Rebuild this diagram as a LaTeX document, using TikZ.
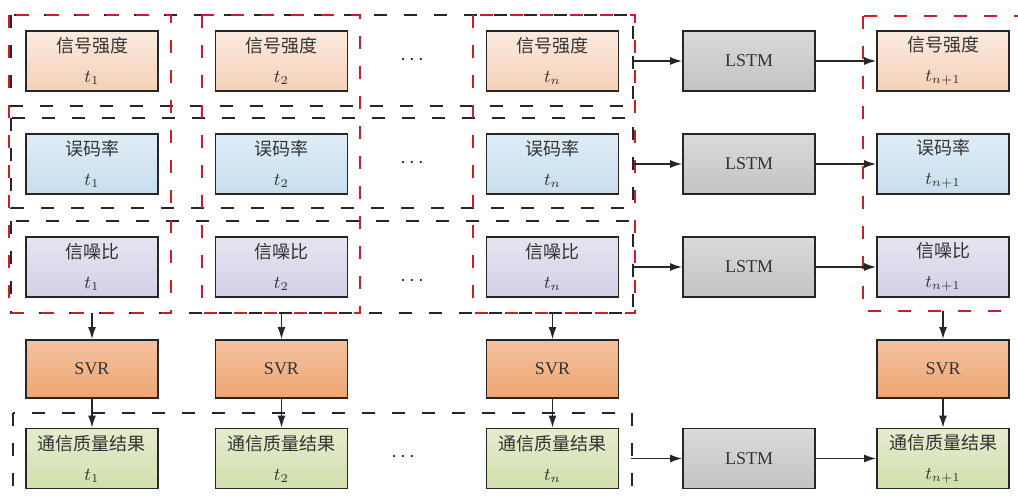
\documentclass[tikz,border=0pt]{standalone}
\usepackage{fontspec}
\setmainfont{Liberation Serif}
\newfontfamily\cjk{Noto Sans CJK SC}
\usetikzlibrary{arrows.meta}

\definecolor{sigtop}{HTML}{FBEADF}
\definecolor{sigbot}{HTML}{F5D1B7}
\definecolor{errtop}{HTML}{DFECF6}
\definecolor{errbot}{HTML}{C8DEEE}
\definecolor{snrtop}{HTML}{E7E4F1}
\definecolor{snrbot}{HTML}{D4CFE5}
\definecolor{svrtop}{HTML}{F3C29E}
\definecolor{svrbot}{HTML}{EDA673}
\definecolor{restop}{HTML}{E5ECCD}
\definecolor{resbot}{HTML}{D2DFAE}
\definecolor{lsttop}{HTML}{DADADA}
\definecolor{lstbot}{HTML}{C3C3C3}
\definecolor{grpred}{HTML}{C8202B}

\begin{document}
\begin{tikzpicture}[x=0.5pt,y=-0.5pt]
    \tikzstyle{box}=[draw=black!85,line width=0.9pt,minimum width=66pt,minimum height=30pt,inner sep=0pt,align=center,text=black!80,font=\fontsize{9}{15}\selectfont]
    \tikzstyle{sig}=[box,top color=sigtop,bottom color=sigbot]
    \tikzstyle{err}=[box,top color=errtop,bottom color=errbot]
    \tikzstyle{snr}=[box,top color=snrtop,bottom color=snrbot]
    \tikzstyle{svr}=[box,top color=svrtop,bottom color=svrbot,minimum height=29pt]
    \tikzstyle{res}=[box,top color=restop,bottom color=resbot]
    \tikzstyle{lstm}=[box,top color=lsttop,bottom color=lstbot]
    \tikzstyle{grp}=[black!85,line width=0.9pt,dash pattern=on 6.5pt off 8.5pt]
    \tikzstyle{redgrp}=[grpred,line width=0.9pt,dash pattern=on 6.5pt off 8.5pt]
    \tikzstyle{arr}=[-{Latex[length=6pt,width=4pt]},line width=0.7pt,black!85]
    \useasboundingbox (0,0) rectangle (1018,501);
    % dashed groups
    \draw[grp] (11,15)  rectangle (633,106);
    \draw[grp] (11,118) rectangle (633,208);
    \draw[grp] (11,221) rectangle (633,313);
    \draw[grp] (13,413) rectangle (632,530);
    \draw[redgrp] (9,15)   rectangle (171,313);
    \draw[redgrp] (202,15) rectangle (360,313);
    \draw[redgrp] (473,15) rectangle (635,313);
    \draw[redgrp] (863,16) rectangle (1040,311);
    \coordinate (grpR) at (633,0);
    \coordinate (botR) at (631,0);
    \coordinate (grpB) at (0,313);
    \coordinate (redB) at (0,311);
    % boxes
    \node (s1)[sig] at (92,61)    {{\cjk 信号强度}\\$t_1$};
    \node (s2)[sig] at (281.5,61) {{\cjk 信号强度}\\$t_2$};
    \node (s3)[sig] at (552.5,61) {{\cjk 信号强度}\\$t_n$};
    \node (s4)[sig] at (943,61)   {{\cjk 信号强度}\\$t_{n+1}$};
    \node (e1)[err] at (92,164)    {{\cjk 误码率}\\$t_1$};
    \node (e2)[err] at (281.5,164) {{\cjk 误码率}\\$t_2$};
    \node (e3)[err] at (552.5,164) {{\cjk 误码率}\\$t_n$};
    \node (e4)[err] at (943,164)   {{\cjk 误码率}\\$t_{n+1}$};
    \node (r1)[snr] at (92,267)    {{\cjk 信噪比}\\$t_1$};
    \node (r2)[snr] at (281.5,267) {{\cjk 信噪比}\\$t_2$};
    \node (r3)[snr] at (552.5,267) {{\cjk 信噪比}\\$t_n$};
    \node (r4)[snr] at (943,267)   {{\cjk 信噪比}\\$t_{n+1}$};
    \node (v1)[svr] at (92,369)    {SVR};
    \node (v2)[svr] at (281.5,369) {SVR};
    \node (v3)[svr] at (552.5,369) {SVR};
    \node (v4)[svr] at (943,369)   {SVR};
    \node (q1)[res] at (92,458.5)    {{\cjk 通信质量结果}\\$t_1$};
    \node (q2)[res] at (281.5,458.5) {{\cjk 通信质量结果}\\$t_2$};
    \node (q3)[res] at (552.5,458.5) {{\cjk 通信质量结果}\\$t_n$};
    \node (q4)[res] at (943,458.5)   {{\cjk 通信质量结果}\\$t_{n+1}$};
    \node (l1)[lstm] at (749,61)    {LSTM};
    \node (l2)[lstm] at (749,164)   {LSTM};
    \node (l3)[lstm] at (749,267)   {LSTM};
    \node (l4)[lstm] at (749,458.5) {LSTM};
    \node (d1) at (412,60)  {$\cdots$};
    \node (d2) at (412,163) {$\cdots$};
    \node (d3) at (412,281) {$\cdots$};
    \node (d4) at (403,457) {$\cdots$};
    % arrows
    \draw[arr] (grpR |- l1) -- (l1);
    \draw[arr] (grpR |- l2) -- (l2);
    \draw[arr] (grpR |- l3) -- (l3);
    \draw[arr] (botR |- l4) -- (l4);
    \draw[arr] (l1) -- (s4);
    \draw[arr] (l2) -- (e4);
    \draw[arr] (l3) -- (r4);
    \draw[arr] (l4) -- (q4);
    \draw[arr] (v1.north |- grpB) -- (v1);
    \draw[arr] (v2.north |- grpB) -- (v2);
    \draw[arr] (v3.north |- grpB) -- (v3);
    \draw[arr] (v4.north |- redB) -- (v4);
    \draw[arr] (v1) -- (q1);
    \draw[arr] (v2) -- (q2);
    \draw[arr] (v3) -- (q3);
    \draw[arr] (v4) -- (q4);
\end{tikzpicture}
\end{document}
